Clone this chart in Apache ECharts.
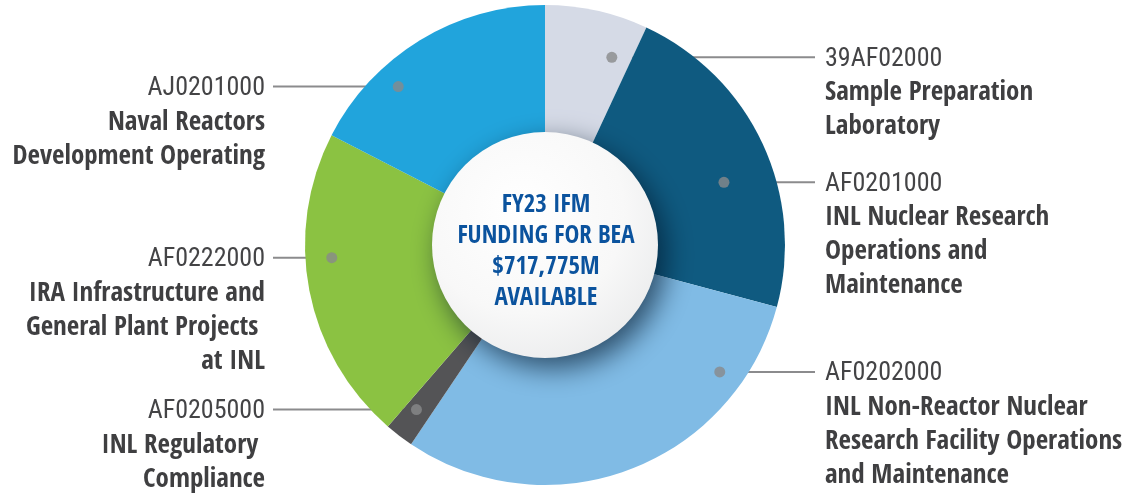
<!DOCTYPE html>
<html>
<head>
<meta charset="utf-8">
<script src="https://cdn.jsdelivr.net/npm/echarts@6/dist/echarts.min.js"></script>
<style>
  html, body { margin: 0; padding: 0; background: #fff; }
  #chart { width: 1139px; height: 493px; }
</style>
</head>
<body>
<div id="chart"></div>
<script>
/* global echarts */

// slices, clockwise from 12 o'clock
const codes = ['39AF02000', 'AF0201000', 'AF0202000', 'AF0205000', 'AF0222000', 'AJ0201000'];
const titles = [
    'Sample Preparation\nLaboratory',
    'INL Nuclear Research\nOperations and\nMaintenance',
    'INL Non-Reactor Nuclear\nResearch Facility Operations\nand Maintenance',
    'INL Regulatory \nCompliance',
    'IRA Infrastructure and\nGeneral Plant Projects \nat INL',
    'Naval Reactors\nDevelopment Operating'
];
// share of the total, in percent
const shares = [6.94, 22.22, 30.25, 1.94, 21.19, 17.44];
const centerText = ['FY23 IFM', 'FUNDING FOR BEA', '$717,775M', 'AVAILABLE'];

const colors = ['#d5dae6', '#0f5a80', '#80bbe5', '#545456', '#8bc242', '#21a4dc'];

// where each leader line starts: radius as a share of the pie, angle clockwise from 12
const dotRadius = [0.83, 0.79, 0.90, 0.87, 0.89, 0.90];
const dotAngle = [19.6, 70.7, 126, 218, 266.6, 317.2];
const sides = ['right', 'right', 'right', 'left', 'left', 'left'];

const CX = 545, CY = 245, R = 240;
const FONT = '"Open Sans Condensed", "Roboto Condensed", "DejaVu Sans Condensed", sans-serif';
const FONT_REG = '"Roboto Condensed", "DejaVu Sans Condensed", sans-serif';

const initChart = () => {
    const chart = echarts.init(document.getElementById('chart'), null, { renderer: 'canvas' });
    chart.setOption(getOption());
};

function getOption() {
    return {
        animation: false,
        backgroundColor: '#fff',
        polar: {
            center: [CX, CY],
            radius: R
        },
        angleAxis: {
            type: 'value', min: 0, max: 360, startAngle: 90, clockwise: true, show: false
        },
        radiusAxis: {
            type: 'value', min: 0, max: 1, show: false
        },
        series: [
            {
                type: 'pie',
                center: [CX, CY],
                radius: [0, R],
                startAngle: 90,
                clockwise: true,
                silent: true,
                avoidLabelOverlap: false,
                emphasis: { disabled: true },
                data: codes.map((c, i) => ({
                    name: c,
                    value: shares[i],
                    itemStyle: { color: colors[i] }
                })),
                label: {
                    show: true,
                    position: 'outside',
                    fontFamily: FONT,
                    formatter: p => '{code|' + codes[p.dataIndex] + '}\n' +
                        titles[p.dataIndex].split('\n').map(t => '{name|' + t + '}').join('\n'),
                    rich: {
                        code: {
                            fontFamily: FONT_REG, fontSize: 26, fontWeight: 'normal', color: '#444446', lineHeight: 34
                        },
                        name: {
                            fontFamily: FONT, fontSize: 27, fontWeight: 'bold', color: '#3f3f41', lineHeight: 34
                        }
                    }
                },
                labelLine: {
                    show: true,
                    smooth: false,
                    lineStyle: { color: '#8b8b8d', width: 2 }
                },
                labelLayout: p => {
                    const i = p.dataIndex;
                    const a = dotAngle[i] * Math.PI / 180;
                    const x0 = CX + R * dotRadius[i] * Math.sin(a);
                    const y0 = CY - R * dotRadius[i] * Math.cos(a);
                    const right = sides[i] === 'right';
                    const x1 = right ? 815 : 273;
                    return {
                        x: right ? 825 : 265,
                        y: y0 - 15,
                        align: right ? 'left' : 'right',
                        verticalAlign: 'top',
                        labelLinePoints: [[x0, y0], [x1, y0], [x1, y0]]
                    };
                }
            },
            {
                type: 'pie',
                center: [CX, CY],
                radius: [0, 113],
                silent: true,
                emphasis: { disabled: true },
                z: 3,
                data: [{
                    value: 1,
                    itemStyle: {
                        color: {
                            type: 'radial', x: 0.4, y: 0.35, r: 0.75,
                            colorStops: [
                                { offset: 0, color: '#ffffff' },
                                { offset: 0.6, color: '#f8f8f8' },
                                { offset: 1, color: '#e9eaeb' }
                            ]
                        },
                        shadowBlur: 28,
                        shadowColor: 'rgba(0, 20, 40, 0.65)',
                        shadowOffsetX: 8,
                        shadowOffsetY: 10
                    }
                }],
                label: {
                    show: true,
                    position: 'center',
                    offset: [1, 7],
                    formatter: centerText.join('\n'),
                    fontFamily: FONT,
                    fontSize: 25,
                    fontWeight: 'bold',
                    color: '#0b539e',
                    lineHeight: 31
                },
                labelLine: { show: false }
            },
            {
                type: 'scatter',
                coordinateSystem: 'polar',
                silent: true,
                z: 5,
                symbol: 'circle',
                symbolSize: 11,
                itemStyle: { color: '#88898b' },
                data: dotRadius.map((r, i) => [r, dotAngle[i]])
            }
        ]
    };
}

window.addEventListener('load', () => {
    initChart();
});
</script>
</body>
</html>
